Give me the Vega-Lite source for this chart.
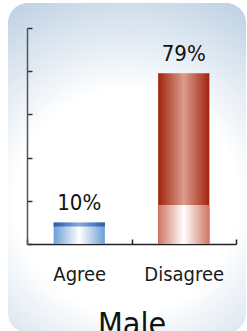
{
  "$schema": "https://vega.github.io/schema/vega-lite/v6.json",
  "width": 238,
  "height": 330,
  "autosize": "none",
  "padding": {"left": 8, "top": 3, "right": 0, "bottom": 0},
  "background": "#ffffff",
  "config": {
    "view": {
      "cornerRadius": 20,
      "stroke": null,
      "fill": {
        "gradient": "radial",
        "x1": 0.5, "y1": 0.6, "r1": 0,
        "x2": 0.5, "y2": 0.6, "r2": 0.8,
        "stops": [
          {"offset": 0, "color": "#ffffff"},
          {"offset": 0.42, "color": "#ffffff"},
          {"offset": 1, "color": "#a9c2da"}
        ]
      }
    },
    "font": "DejaVu Sans Condensed"
  },
  "data": {
    "values": [
      {"response": "Agree", "value": 10, "label": "10%"},
      {"response": "Disagree", "value": 79, "label": "79%"}
    ]
  },
  "encoding": {
    "x": {
      "field": "response",
      "type": "nominal",
      "sort": ["Agree", "Disagree"],
      "scale": {"type": "band", "range": [19, 228], "paddingInner": 0, "paddingOuter": 0},
      "axis": {
        "orient": "bottom",
        "offset": -89,
        "title": "Male",
        "titleFont": "DejaVu Sans Condensed",
        "titleFontSize": 32,
        "titleFontWeight": 300,
        "titleColor": "#111111",
        "titlePadding": 25,
        "labelAngle": 0,
        "labelFont": "DejaVu Sans Condensed",
        "labelFontSize": 20,
        "labelColor": "#1a1a1a",
        "labelPadding": 25,
        "tickBand": "extent",
        "tickSize": -5,
        "tickWidth": 1.5,
        "tickColor": "#222222",
        "domainColor": "#222222",
        "domainWidth": 1.5,
        "grid": false
      }
    },
    "y": {
      "type": "quantitative",
      "scale": {"domain": [0, 100], "range": [241, 25], "nice": false},
      "axis": {
        "orient": "left",
        "offset": -19,
        "title": null,
        "labels": false,
        "values": [0, 20, 40, 60, 80, 100],
        "tickSize": -5,
        "tickWidth": 1.5,
        "tickColor": "#333333",
        "domainColor": "#555555",
        "domainWidth": 1.5,
        "grid": false
      }
    }
  },
  "layer": [
    {
      "transform": [{"filter": "datum.response === 'Disagree'"}],
      "mark": {
        "type": "bar",
        "width": {"band": 0.49},
        "color": {
          "gradient": "linear", "x1": 0, "y1": 0, "x2": 1, "y2": 0,
          "stops": [
            {"offset": 0, "color": "#a0230c"},
            {"offset": 0.5, "color": "#dc9c8e"},
            {"offset": 1, "color": "#a0230c"}
          ]
        }
      },
      "encoding": {"y": {"field": "value", "type": "quantitative"}}
    },
    {
      "transform": [{"filter": "datum.response === 'Disagree'"}],
      "mark": {
        "type": "bar",
        "width": {"band": 0.49},
        "color": {
          "gradient": "linear", "x1": 0, "y1": 0, "x2": 1, "y2": 0,
          "stops": [
            {"offset": 0, "color": "#cf7462"},
            {"offset": 0.5, "color": "#ffffff"},
            {"offset": 1, "color": "#cf7462"}
          ]
        }
      },
      "encoding": {"y": {"datum": 18, "type": "quantitative"}, "y2": {"datum": 0}}
    },
    {
      "transform": [{"filter": "datum.response === 'Agree'"}],
      "mark": {
        "type": "bar",
        "width": {"band": 0.49},
        "color": {
          "gradient": "linear", "x1": 0, "y1": 0, "x2": 1, "y2": 0,
          "stops": [
            {"offset": 0, "color": "#6a9ed6"},
            {"offset": 0.5, "color": "#ffffff"},
            {"offset": 1, "color": "#6a9ed6"}
          ]
        }
      },
      "encoding": {"y": {"field": "value", "type": "quantitative"}}
    },
    {
      "transform": [{"filter": "datum.response === 'Agree'"}],
      "mark": {
        "type": "bar",
        "width": {"band": 0.49},
        "y2Offset": 4,
        "color": {
          "gradient": "linear", "x1": 0, "y1": 0, "x2": 1, "y2": 0,
          "stops": [
            {"offset": 0, "color": "#2a5aa2"},
            {"offset": 0.5, "color": "#86abd8"},
            {"offset": 1, "color": "#2a5aa2"}
          ]
        }
      },
      "encoding": {
        "y": {"field": "value", "type": "quantitative"},
        "y2": {"field": "value"}
      }
    },
    {
      "mark": {
        "type": "text",
        "dy": -12,
        "baseline": "alphabetic",
        "fontSize": 22,
        "font": "DejaVu Sans Condensed",
        "color": "#111111"
      },
      "encoding": {
        "y": {"field": "value", "type": "quantitative"},
        "text": {"field": "label"}
      }
    }
  ]
}
